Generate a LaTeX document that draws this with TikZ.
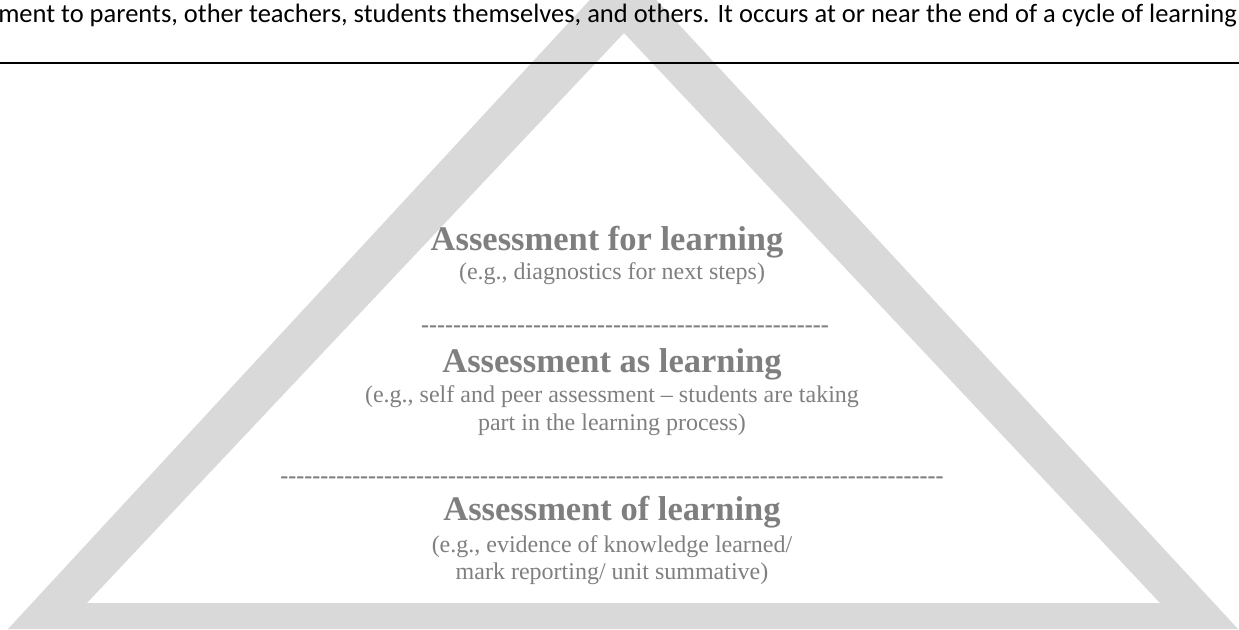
\documentclass[tikz,border=0pt]{standalone}
\usepackage{fontspec}
\setmainfont{Liberation Serif}
\newfontfamily\calibrifont{Carlito}
\definecolor{trigray}{HTML}{D9D9D9}
\definecolor{txtgray}{HTML}{7F7F7F}
\newcommand\hyrow[1]{\foreach \i in {1,...,#1}{\hbox{-}}}
\begin{document}
\begin{tikzpicture}[x=1pt,y=-1pt,
  titletext/.style={font=\fontsize{34.5}{40}\selectfont\bfseries, text=txtgray, inner sep=0pt, anchor=base},
  subtext/.style={font=\fontsize{24}{27}\selectfont, text=txtgray, inner sep=0pt, anchor=base},
  dashrow/.style={font=\fontsize{24}{27}\selectfont\bfseries, text=txtgray, inner sep=0pt, anchor=base},
  toptext/.style={font=\calibrifont\fontsize{26.5}{30}\selectfont, text=black, inner sep=0pt, anchor=base east},
  rule/.style={line width=2.2pt, black}
]
\useasboundingbox (0,0) rectangle (1239,629);
\begin{scope}
  \clip (0,0) rectangle (1239,629);
  \fill[trigray, even odd rule]
    (8,629) -- (1238,629) -- (623,-36) -- cycle
    (87,603) -- (1160,603) -- (624,33) -- cycle;
\end{scope}

\node[toptext] (top) at (1237,22) {ment to parents, other teachers, students themselves, and others. It occurs at or near the end of a cycle of learning};
\coordinate (ruleL) at (0,63);
\coordinate (ruleR) at (1239,63);
\draw[rule] (ruleL) -- (ruleR);

\node[titletext] (t1) at (607,250) {Assessment for learning};
\node[subtext] (s1) at (612,279) {(e.g., diagnostics for next steps)};
\node[dashrow] (d1) at (625,332.5) {\hyrow{51}};

\node[titletext] (t2) at (612,372) {Assessment as learning};
\node[subtext] (s2a) at (612,402) {(e.g., self and peer assessment – students are taking};
\node[subtext] (s2b) at (612,430) {part in the learning process)};
\node[dashrow] (d2) at (612,483.5) {\hyrow{83}};

\node[titletext] (t3) at (612,520) {Assessment of learning};
\node[subtext] (s3a) at (612,552) {(e.g., evidence of knowledge learned/};
\node[subtext] (s3b) at (612,579) {mark reporting/ unit summative)};
\end{tikzpicture}
\end{document}
